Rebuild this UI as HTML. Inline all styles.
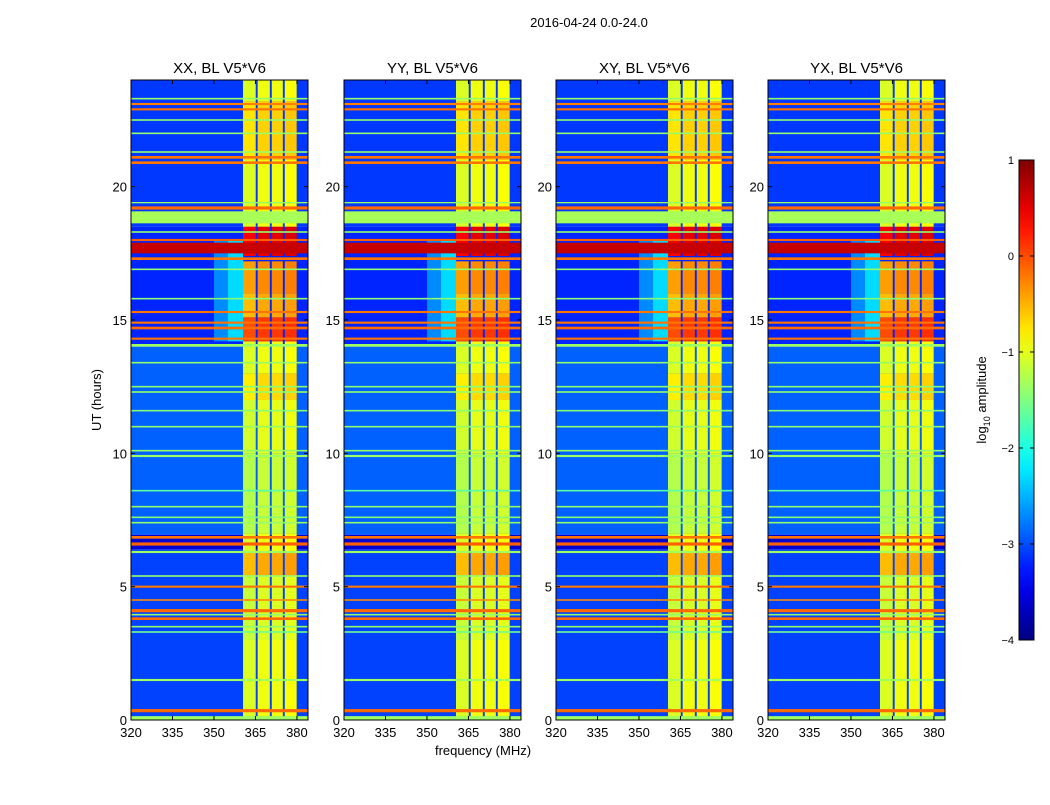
<!DOCTYPE html>
<html><head><meta charset="utf-8"><style>
body{margin:0;background:#fff;font-family:"Liberation Sans",sans-serif;}
svg text{font-family:"Liberation Sans",sans-serif;}
</style></head><body>
<svg id="fig" width="1050" height="800" xmlns="http://www.w3.org/2000/svg">
<rect width="1050" height="800" fill="#fff"/>
<text x="589" y="27" font-size="13" text-anchor="middle">2016-04-24 0.0-24.0</text>
<text x="483" y="755" font-size="13" text-anchor="middle">frequency (MHz)</text>
<text transform="translate(101,400) rotate(-90)" font-size="13" text-anchor="middle">UT (hours)</text>
<g id="panels"></g>
<g id="cbar"></g>
</svg>
<script>
// ---- data ----
const panelTitles = ["XX, BL V5*V6","YY, BL V5*V6","XY, BL V5*V6","YX, BL V5*V6"];
const xTicks = [320,335,350,365,380];
const yTicks = [0,5,10,15,20];
const cbarTicks = [1,0,-1,-2,-3,-4];
// background segments (hours) and levels (log10 amplitude)
const bgStart = [0,6.4,6.95,14,18.5];
const bgEnd   = [6.4,6.95,14,18.5,24];
const bgLevel = [-3.05,-3.6,-2.9,-3.2,-3.1];
// RFI channel columns (MHz)
const colStart = [360.5,365.8,370.9,375.6];
const colEnd   = [365.1,370.2,374.9,379.9];
const colOffset = [-0.1,0,0,0.05];
// level within channel columns by hour segment
const segStart = [0,3,5.4,6.3,7,10,12,13,14.2,15.1,16,17.4,18.5,21,23.2];
const segEnd   = [3,5.4,6.3,7,10,12,13,14.2,15.1,16,17.2,18.5,21,23.2,24];
const segLevel = [-0.95,-1.05,-0.45,-0.95,-1.15,-1.0,-0.7,-0.95,0.1,-0.45,-0.3,0.5,-0.95,-0.65,-0.95];
// leakage region next to columns
const leakF0 = [350,355];
const leakF1 = [355,360.5];
const leakH0 = [14.2,14.2];
const leakH1 = [18,18];
const leakLevel = [-2.7,-2.3];
// horizontal RFI rows (hour center, level, width in hours)
const rowHours = [0.07,0.35,1.5,3.3,3.5,3.8,3.95,4.1,4.5,5.0,5.4,6.3,6.6,6.85,7.4,7.6,8.0,8.6,9.9,10.1,11.0,11.6,12.3,12.5,13.4,14.05,14.3,14.7,14.9,15.3,15.8,16.9,17.3,17.7,18.0,18.3,18.85,19.2,19.4,20.9,21.1,21.3,22.0,22.5,22.9,23.1,23.3];
const rowLevels = [-1.35,-0.15,-1.35,-1.6,-1.4,-0.15,-1.4,-0.15,-0.3,-0.2,-1.4,-1.35,-0.1,-0.2,-1.4,-1.45,-1.4,-1.7,-1.35,-1.4,-1.4,-1.45,-1.4,-1.45,-1.4,-1.35,-0.2,-0.15,-0.2,-0.2,-1.45,-1.4,-0.2,0.65,-0.1,-1.4,-1.3,-0.15,-1.4,-0.2,-0.2,-1.4,-1.4,-1.45,-0.2,-0.25,-1.4];
const rowWidths = [0.15,0.12,0.08,0.06,0.06,0.1,0.06,0.12,0.06,0.08,0.06,0.08,0.12,0.1,0.06,0.06,0.06,0.06,0.08,0.06,0.06,0.06,0.06,0.06,0.06,0.1,0.08,0.1,0.08,0.08,0.06,0.06,0.1,0.4,0.08,0.06,0.45,0.12,0.05,0.1,0.1,0.06,0.06,0.06,0.08,0.08,0.06];

const panelX = [131,344,556,768];
const PW = 177, PT = 80, PB = 720;
const F0 = 320, F1 = 384, H0 = 0, H1 = 24, VMIN = -4, VMAX = 1;
const NS = "http://www.w3.org/2000/svg";

function jet(v){
  let t=(v-VMIN)/(VMAX-VMIN); t=Math.max(0,Math.min(1,t));
  const c=x=>Math.round(255*Math.max(0,Math.min(1,x)));
  return `rgb(${c(1.5-Math.abs(4*t-3))},${c(1.5-Math.abs(4*t-2))},${c(1.5-Math.abs(4*t-1))})`;
}
function mk(tag,attrs,parent){const e=document.createElementNS(NS,tag);for(const k in attrs)e.setAttribute(k,attrs[k]);parent.appendChild(e);return e;}

const panels=document.getElementById('panels');
panelX.forEach((px,pi)=>{
  const xs=f=>px+(f-F0)/(F1-F0)*PW;
  const ys=h=>PB-(h-H0)/(H1-H0)*(PB-PT);
  const g=mk('g',{},panels);
  
  
  const cp=mk('clipPath',{id:'cp'+pi},g);
  mk('rect',{x:px,y:PT,width:PW,height:PB-PT},cp);
  const hm=mk('g',{'clip-path':`url(#cp${pi})`},g);
  
  
  bgStart.forEach((s,i)=>{
    const r=mk('rect',{x:px,y:ys(bgEnd[i]),width:PW,height:ys(s)-ys(bgEnd[i]),fill:jet(bgLevel[i])},hm);
    
    
  });
  leakF0.forEach((f,i)=>{
    const r=mk('rect',{x:xs(f),y:ys(leakH1[i]),width:xs(leakF1[i])-xs(f),height:ys(leakH0[i])-ys(leakH1[i]),fill:jet(leakLevel[i])},hm);
    
    
  });
  colStart.forEach((c0,ci)=>{
    segStart.forEach((s,si)=>{
      const r=mk('rect',{x:xs(c0),y:ys(segEnd[si]),width:xs(colEnd[ci])-xs(c0),height:ys(s)-ys(segEnd[si]),fill:jet(segLevel[si]+colOffset[ci])},hm);
      
      
    });
  });
  rowHours.forEach((h,i)=>{
    const y0=ys(h+rowWidths[i]/2), y1=ys(h-rowWidths[i]/2);
    const r=mk('rect',{x:px,y:y0,width:PW,height:Math.max(1.2,y1-y0),fill:jet(rowLevels[i])},hm);
    
    
  });
  mk('rect',{x:px,y:PT,width:PW,height:PB-PT,fill:'none',stroke:'#000','stroke-width':1},g);
  const t=mk('text',{x:px+PW/2,y:73,'font-size':15,'text-anchor':'middle'},g);
  t.textContent=panelTitles[pi];
  
  
  xTicks.forEach(v=>{
    const x=xs(v);
    mk('line',{x1:x,x2:x,y1:PB,y2:PB-4,stroke:'#000'},g);
    mk('line',{x1:x,x2:x,y1:PT,y2:PT+4,stroke:'#000'},g);
    const l=mk('text',{x:x,y:PB+17,'font-size':13,'text-anchor':'middle'},g);
    l.textContent=v;
    
    
  });
  yTicks.forEach(v=>{
    const y=ys(v);
    mk('line',{x1:px,x2:px+4,y1:y,y2:y,stroke:'#000'},g);
    mk('line',{x1:px+PW,x2:px+PW-4,y1:y,y2:y,stroke:'#000'},g);
    const l=mk('text',{x:px-4,y:y+5,'font-size':13,'text-anchor':'end'},g);
    l.textContent=v;
    
    
  });
});

// colorbar
const cb=document.getElementById('cbar');


const CX=1019,CW=15,CT=160,CB=640;
const cys=v=>CB-(v-VMIN)/(VMAX-VMIN)*(CB-CT);
const defs=mk('defs',{},cb);
const lg=mk('linearGradient',{id:'jetg',x1:0,y1:1,x2:0,y2:0},defs);
for(let i=0;i<=20;i++){mk('stop',{offset:i/20,'stop-color':jet(VMIN+(VMAX-VMIN)*i/20)},lg);}
mk('rect',{x:CX,y:CT,width:CW,height:CB-CT,fill:'url(#jetg)',stroke:'#000'},cb);
cbarTicks.forEach(v=>{
  const y=cys(v);
  mk('line',{x1:CX,x2:CX+4,y1:y,y2:y,stroke:'#000'},cb);
  mk('line',{x1:CX+CW,x2:CX+CW-4,y1:y,y2:y,stroke:'#000'},cb);
  const l=mk('text',{x:1014,y:y+4,'font-size':11,'text-anchor':'end'},cb);
  l.textContent=(v<0?'\u2212'+(-v):v);
  
  
});
const cl=mk('text',{transform:'translate(986,400) rotate(-90)','font-size':13,'text-anchor':'middle'},cb);
cl.innerHTML='log<tspan font-size="9" dy="4">10</tspan><tspan dy="-4"> amplitude</tspan>';


</script>
</body></html>
